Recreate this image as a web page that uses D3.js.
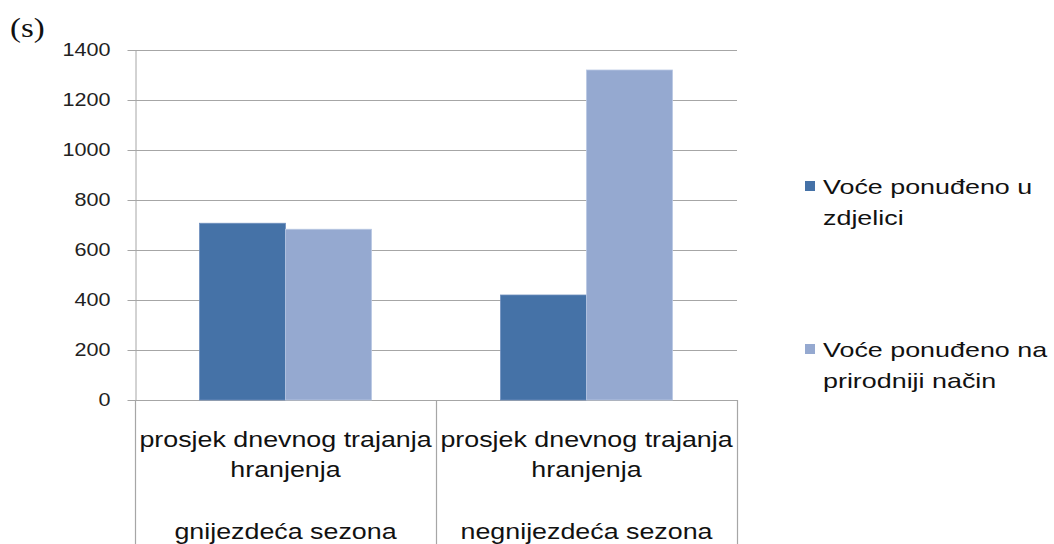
<!DOCTYPE html>
<html>
<head>
<meta charset="utf-8">
<script src="https://cdn.jsdelivr.net/npm/d3@7"></script>
<style>
  html, body { margin: 0; padding: 0; background: #fff; }
  svg { display: block; }
</style>
</head>
<body>
<svg id="chart" width="1054" height="544"></svg>
<script>
// Feeding duration data (seconds)
const categories = [
  ["prosjek dnevnog trajanja", "hranjenja", "", "gnijezdeća sezona"],
  ["prosjek dnevnog trajanja", "hranjenja", "", "negnijezdeća sezona"]
];
const seriesNames = [
  ["Voće ponuđeno u", "zdjelici"],
  ["Voće ponuđeno na", "prirodniji način"]
];
const bowlValues = [707, 420];
const naturalValues = [683, 1320];
const yTicks = [0, 200, 400, 600, 800, 1000, 1200, 1400];
const unitLabel = "(s)";

const colors = ["#4572A7", "#95A9D0"];
const series = [bowlValues, naturalValues];

// text in this layout is set slightly wide
const wideX = { tick: 1.2, cat: 1.22, legend: 1.28, unit: 1.22 };

const svg = d3.select("#chart");
const plot = { left: 135, right: 737, top: 50, bottom: 400 };

const y = d3.scaleLinear().domain([0, 1400]).range([plot.bottom, plot.top]);
const x0 = d3.scaleBand().domain(d3.range(categories.length))
  .range([plot.left, plot.right]).paddingInner(0).paddingOuter(0);
// Excel-style gap width of 150%
const barW = x0.bandwidth() / (series.length + 1.5);
const x1 = d3.scaleBand().domain(d3.range(series.length))
  .range([0, barW * series.length]);

// gridlines
svg.append("g")
  .selectAll("line")
  .data(yTicks)
  .join("line")
  .attr("x1", plot.left).attr("x2", plot.right)
  .attr("y1", d => Math.round(y(d)) + 0.5).attr("y2", d => Math.round(y(d)) + 0.5)
  .attr("stroke", "#a6a6a6").attr("stroke-width", 1.2);

// y axis
const tickSize = 8, tickPad = 17;
const yAxis = svg.append("g")
  .attr("transform", `translate(${plot.left + 0.5},0)`)
  .call(d3.axisLeft(y).tickValues(yTicks).tickFormat(d3.format("d"))
    .tickSize(tickSize).tickPadding(tickPad).tickSizeOuter(0));
yAxis.select(".domain").attr("stroke", "#a6a6a6");
yAxis.selectAll(".tick line").attr("stroke", "#a6a6a6");
yAxis.selectAll(".tick text")
  .attr("x", 0)
  .attr("transform", `translate(${-(tickSize + tickPad)},0) scale(${wideX.tick},1)`)
  .attr("font-family", "'Liberation Sans', Arial, sans-serif")
  .attr("font-size", 18)
  .attr("fill", "#222");

// bars
const groups = svg.append("g").selectAll("g")
  .data(categories)
  .join("g")
  .attr("transform", (d, i) => `translate(${x0(i) + (x0.bandwidth() - barW * series.length) / 2},0)`);

groups.selectAll("rect")
  .data((d, i) => series.map((s, j) => ({ j, v: s[i] })))
  .join("rect")
  .attr("x", d => x1(d.j))
  .attr("width", x1.bandwidth())
  .attr("y", d => y(d.v))
  .attr("height", d => y(0) - y(d.v))
  .attr("fill", d => colors[d.j])
  .attr("stroke", d => d.j === 0 ? "#6f8fbd" : "#b9c8e3")
  .attr("stroke-width", 0.8);

// category separators extending into the label area
const seps = [plot.left, plot.left + x0.bandwidth(), plot.right];
svg.append("g").selectAll("line")
  .data(seps)
  .join("line")
  .attr("x1", d => Math.round(d) + 0.5).attr("x2", d => Math.round(d) + 0.5)
  .attr("y1", plot.bottom).attr("y2", 544)
  .attr("stroke", "#a6a6a6").attr("stroke-width", 1.2);

// category labels
const catG = svg.append("g").selectAll("text")
  .data(categories)
  .join("text")
  .attr("text-anchor", "middle")
  .attr("font-family", "'Liberation Sans', Arial, sans-serif")
  .attr("font-size", 22)
  .attr("fill", "#111")
  .attr("transform", (d, i) => `translate(${x0(i) + x0.bandwidth() / 2},447) scale(${wideX.cat},1)`);
catG.selectAll("tspan")
  .data(d => d)
  .join("tspan")
  .attr("x", 0)
  .attr("y", (d, k) => k * 30.5)
  .text(d => d || " ");

// legend
const legY = [186, 349];
const leg = svg.append("g").selectAll("g")
  .data(seriesNames)
  .join("g")
  .attr("transform", (d, i) => `translate(805,${legY[i]})`);
leg.append("rect")
  .attr("x", 0).attr("y", -5).attr("width", 10).attr("height", 10)
  .attr("fill", (d, i) => colors[i]);
leg.append("text")
  .attr("transform", `translate(18,0) scale(${wideX.legend},1)`)
  .attr("font-family", "'Liberation Sans', Arial, sans-serif")
  .attr("font-size", 21)
  .attr("fill", "#111")
  .selectAll("tspan")
  .data(d => d)
  .join("tspan")
  .attr("x", 0)
  .attr("y", (d, k) => 8 + k * 31.5)
  .text(d => d);

// unit label
svg.append("text")
  .attr("transform", `translate(10,37) scale(${wideX.unit},1)`)
  .attr("font-family", "'Liberation Serif', 'Times New Roman', serif")
  .attr("font-size", 27)
  .attr("fill", "#111")
  .text(unitLabel);
</script>
</body>
</html>
